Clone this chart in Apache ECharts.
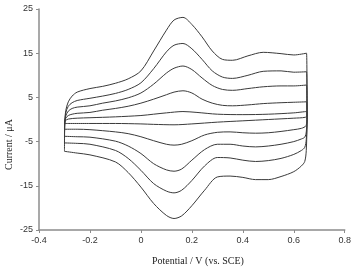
<!DOCTYPE html>
<html>
<head>
<meta charset="utf-8">
<script src="https://cdn.jsdelivr.net/npm/echarts@6/dist/echarts.min.js"></script>
<style>
html,body{margin:0;padding:0;background:#fff;}
#c{width:354px;height:273px;}
</style>
</head>
<body>
<div id="c"></div>
<script>
// Potential (V vs SCE), current (µA) pairs for each CV loop
const loop1Anodic = [[-0.3,-0.9],[-0.297,-0.3],[-0.285,0.1],[-0.25,0.3],[-0.2,0.4],[-0.1,0.6],[0,0.9],[0.05,1.2],[0.1,1.5],[0.165,1.8],[0.22,1.6],[0.3,1.2],[0.4,1.1],[0.5,1.2],[0.6,1.5],[0.65,1.8]];
const loop1Cathodic = [[0.652,0.9],[0.645,0.5],[0.6,0.3],[0.5,0.0],[0.4,-0.3],[0.3,-0.6],[0.2,-1.0],[0.13,-1.2],[0.05,-1.1],[0,-1.0],[-0.1,-0.9],[-0.2,-0.9],[-0.3,-0.9]];

const loop2Anodic = [[-0.3,-2.2],[-0.299,-0.5],[-0.295,0.3],[-0.285,0.9],[-0.27,1.2],[-0.25,1.4],[-0.2,1.6],[-0.15,2.1],[-0.1,2.5],[-0.05,3.0],[0,3.7],[0.05,4.6],[0.1,5.6],[0.13,6.2],[0.165,6.5],[0.2,6.0],[0.24,4.6],[0.28,3.7],[0.32,3.2],[0.36,3.1],[0.42,3.3],[0.48,3.6],[0.55,3.8],[0.6,3.9],[0.65,4.0]];
const loop2Cathodic = [[0.652,0.5],[0.648,-1.4],[0.63,-2.0],[0.6,-2.3],[0.55,-2.7],[0.5,-3.0],[0.45,-3.1],[0.4,-3.0],[0.35,-2.8],[0.3,-2.9],[0.25,-3.5],[0.2,-4.8],[0.16,-5.6],[0.13,-5.8],[0.1,-5.6],[0.05,-4.8],[0,-3.9],[-0.05,-3.2],[-0.1,-2.8],[-0.2,-2.3],[-0.25,-2.2],[-0.3,-2.2]];

const loop3Anodic = [[-0.3,-3.8],[-0.299,-1.0],[-0.295,0.8],[-0.285,1.9],[-0.27,2.5],[-0.25,2.8],[-0.2,3.1],[-0.15,3.7],[-0.1,4.2],[-0.05,4.9],[0,6.0],[0.05,8.0],[0.1,10.5],[0.13,11.6],[0.165,12.1],[0.2,11.3],[0.24,9.4],[0.28,7.7],[0.32,6.8],[0.36,6.6],[0.42,7.0],[0.48,7.4],[0.55,7.6],[0.6,7.6],[0.65,7.8]];
const loop3Cathodic = [[0.652,0.0],[0.649,-2.8],[0.643,-4.0],[0.63,-4.4],[0.6,-5.0],[0.55,-5.6],[0.5,-6.0],[0.45,-6.2],[0.4,-6.0],[0.35,-5.6],[0.3,-5.6],[0.25,-6.8],[0.2,-9.2],[0.16,-11.2],[0.13,-11.7],[0.1,-11.4],[0.05,-10.0],[0,-7.7],[-0.05,-6.0],[-0.1,-4.9],[-0.2,-4.0],[-0.25,-3.9],[-0.3,-3.8]];

const loop4Anodic = [[-0.3,-5.3],[-0.299,-1.0],[-0.295,1.5],[-0.285,3.0],[-0.27,3.8],[-0.25,4.3],[-0.2,4.8],[-0.15,5.3],[-0.1,5.9],[-0.05,6.8],[0,8.3],[0.05,11.5],[0.1,15.3],[0.13,16.8],[0.165,17.2],[0.2,16.0],[0.24,13.6],[0.28,11.0],[0.32,9.6],[0.36,9.3],[0.42,10.0],[0.48,10.9],[0.55,11.0],[0.6,10.7],[0.65,10.8]];
const loop4Cathodic = [[0.652,0.0],[0.649,-4.5],[0.643,-6.3],[0.63,-7.0],[0.6,-7.9],[0.55,-8.8],[0.5,-9.3],[0.45,-9.5],[0.4,-9.2],[0.35,-8.7],[0.3,-8.6],[0.25,-10.5],[0.2,-13.8],[0.16,-16.0],[0.13,-16.6],[0.1,-16.2],[0.05,-14.5],[0,-11.5],[-0.05,-8.8],[-0.1,-7.0],[-0.2,-5.6],[-0.25,-5.4],[-0.3,-5.3]];

const loop5Anodic = [[-0.3,-7.2],[-0.299,-1.0],[-0.295,2.0],[-0.285,4.0],[-0.27,5.3],[-0.25,6.2],[-0.2,7.0],[-0.15,7.5],[-0.1,8.2],[-0.05,9.2],[0,11.0],[0.05,15.5],[0.1,20.2],[0.13,22.5],[0.165,23.1],[0.2,21.5],[0.24,18.7],[0.28,15.5],[0.32,13.6],[0.36,13.4],[0.42,14.4],[0.48,15.2],[0.55,14.9],[0.6,14.6],[0.65,15.0]];
const loop5Cathodic = [[0.652,0.0],[0.649,-7.0],[0.643,-9.5],[0.63,-10.5],[0.6,-11.8],[0.55,-12.9],[0.5,-13.6],[0.45,-13.6],[0.4,-13.1],[0.35,-12.8],[0.3,-13.0],[0.25,-16.0],[0.2,-19.5],[0.16,-21.8],[0.13,-22.4],[0.1,-21.7],[0.05,-19.0],[0,-15.3],[-0.05,-12.0],[-0.1,-9.6],[-0.2,-8.0],[-0.25,-7.6],[-0.3,-7.2]];

const loops = [
  [loop1Anodic, loop1Cathodic],
  [loop2Anodic, loop2Cathodic],
  [loop3Anodic, loop3Cathodic],
  [loop4Anodic, loop4Cathodic],
  [loop5Anodic, loop5Cathodic]
];

const xTicks = [-0.4,-0.2,0,0.2,0.4,0.6,0.8];
const yTicks = [-25,-15,-5,5,15,25];
const xTitle = 'Potential / V (vs. SCE)';
const yTitle = 'Current / \u03bcA';

const chart = echarts.init(document.getElementById('c'), null, {renderer:'canvas'});
const axisGray = '#8c8c8c';
const labelStyle = {fontFamily:'Liberation Sans', fontSize:9, color:'#333'};

chart.setOption({
  animation:false,
  backgroundColor:'#fff',
  grid:{left:39, right:9, top:9, bottom:43, containLabel:false},
  xAxis:{
    type:'value', min:xTicks[0], max:xTicks[xTicks.length-1], interval:0.2,
    axisLine:{show:true, onZero:false, lineStyle:{color:axisGray, width:1.5}},
    axisTick:{show:true, inside:false, length:3, lineStyle:{color:axisGray}},
    splitLine:{show:false},
    axisLabel:Object.assign({margin:6, formatter:v=>{const r=Math.round(v*10)/10; return r===0?'0':r.toFixed(1);}}, labelStyle)
  },
  yAxis:{
    type:'value', min:yTicks[0], max:yTicks[yTicks.length-1], interval:10,
    axisLine:{show:true, onZero:false, lineStyle:{color:axisGray, width:1.5}},
    axisTick:{show:true, inside:false, length:3, lineStyle:{color:axisGray}},
    splitLine:{show:false},
    axisLabel:Object.assign({margin:6}, labelStyle)
  },
  graphic:[
    {type:'text', x:152, y:256, style:{text:xTitle, font:'10px "Liberation Serif"', fill:'#222'}},
    {type:'text', rotation:Math.PI/2, x:4, y:170, style:{text:yTitle, font:'10px "Liberation Serif"', fill:'#222'}}
  ],
  series: loops.map(l=>({
    type:'line',
    data:l[0].concat(l[1]),
    smooth:0.3,
    showSymbol:false,
    symbol:'none',
    lineStyle:{color:'#3a3a3a', width:1},
    z:2
  }))
});
</script>
</body>
</html>
